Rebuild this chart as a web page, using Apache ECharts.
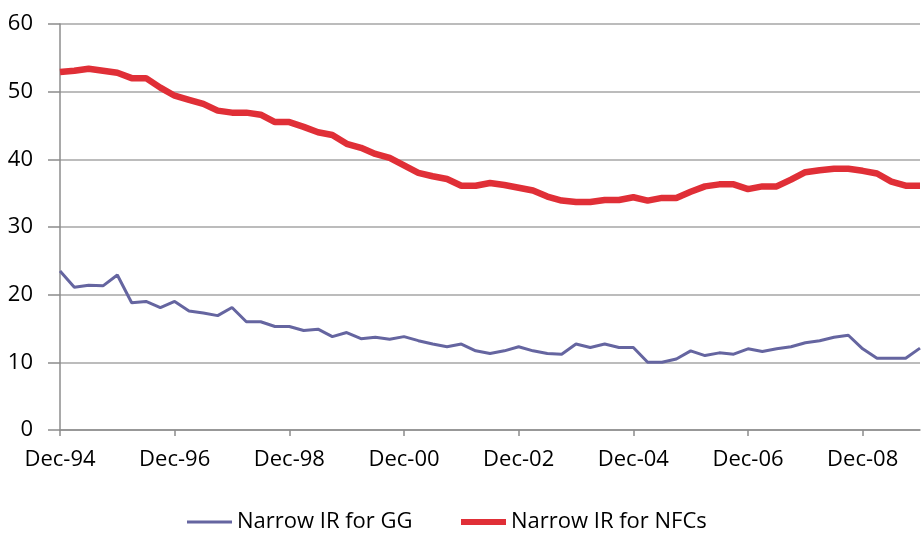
<!DOCTYPE html>
<html>
<head>
<meta charset="utf-8">
<script src="https://cdn.jsdelivr.net/npm/echarts@6/dist/echarts.min.js"></script>
<style>
  html, body { margin: 0; padding: 0; background: #fff; }
  #chart { width: 922px; height: 535px; }
</style>
</head>
<body>
<div id="chart"></div>
<script>
// quarterly, Dec-94 .. Dec-09
const quarters = [
  'Dec-94','Mar-95','Jun-95','Sep-95','Dec-95','Mar-96','Jun-96','Sep-96',
  'Dec-96','Mar-97','Jun-97','Sep-97','Dec-97','Mar-98','Jun-98','Sep-98',
  'Dec-98','Mar-99','Jun-99','Sep-99','Dec-99','Mar-00','Jun-00','Sep-00',
  'Dec-00','Mar-01','Jun-01','Sep-01','Dec-01','Mar-02','Jun-02','Sep-02',
  'Dec-02','Mar-03','Jun-03','Sep-03','Dec-03','Mar-04','Jun-04','Sep-04',
  'Dec-04','Mar-05','Jun-05','Sep-05','Dec-05','Mar-06','Jun-06','Sep-06',
  'Dec-06','Mar-07','Jun-07','Sep-07','Dec-07','Mar-08','Jun-08','Sep-08',
  'Dec-08','Mar-09','Jun-09','Sep-09','Dec-09'
];

const narrowGG = [
  23.5, 21.1, 21.4, 21.3, 22.9, 18.8, 19.0, 18.1,
  19.0, 17.6, 17.3, 16.9, 18.1, 16.0, 16.0, 15.3,
  15.3, 14.7, 14.9, 13.8, 14.4, 13.5, 13.7, 13.4,
  13.8, 13.2, 12.7, 12.3, 12.7, 11.7, 11.3, 11.7,
  12.3, 11.7, 11.3, 11.2, 12.7, 12.2, 12.7, 12.2,
  12.2, 10.0, 10.0, 10.5, 11.7, 11.0, 11.4, 11.2,
  12.0, 11.6, 12.0, 12.3, 12.9, 13.2, 13.7, 14.0,
  12.0, 10.6, 10.6, 10.6, 12.1
];

const narrowNFC = [
  52.9, 53.1, 53.4, 53.1, 52.8, 52.0, 52.0, 50.6,
  49.4, 48.8, 48.2, 47.2, 46.9, 46.9, 46.6, 45.5,
  45.5, 44.8, 44.0, 43.6, 42.3, 41.7, 40.8, 40.2,
  39.1, 38.0, 37.5, 37.1, 36.1, 36.1, 36.5, 36.2,
  35.8, 35.4, 34.5, 33.9, 33.7, 33.7, 34.0, 34.0,
  34.4, 33.9, 34.3, 34.3, 35.2, 36.0, 36.3, 36.3,
  35.6, 36.0, 36.0, 37.0, 38.1, 38.4, 38.6, 38.6,
  38.3, 37.9, 36.7, 36.1, 36.1
];

const yTicks = [0, 10, 20, 30, 40, 50, 60];

const fontFamily = '"Open Sans", "Noto Sans", sans-serif';
const gridGray = '#a6a6a6';
const ggColor = '#6565a0';
const nfcColor = '#e02f37';

let chartDom = document.getElementById('chart');
let myChart = echarts.init(chartDom, null, { renderer: 'canvas' });

let legendText = { fontSize: 22, color: '#000', fontFamily: fontFamily };

let option = {
  animation: false,
  backgroundColor: '#ffffff',
  textStyle: { fontFamily: fontFamily },
  grid: {
    left: 60,
    right: 2,
    top: 24,
    bottom: 105,
    containLabel: false
  },
  legend: [
    {
      left: 187,
      top: 511,
      padding: 0,
      icon: 'rect',
      itemWidth: 45,
      itemHeight: 3,
      itemGap: 6,
      textStyle: legendText,
      data: ['Narrow IR for GG']
    },
    {
      left: 461,
      top: 511,
      padding: 0,
      icon: 'rect',
      itemWidth: 45,
      itemHeight: 6,
      textStyle: legendText,
      data: ['Narrow IR for NFCs']
    }
  ],
  xAxis: {
    type: 'category',
    boundaryGap: false,
    data: quarters,
    axisLine: { lineStyle: { color: '#8c8c8c', width: 1.5 } },
    axisTick: { interval: 7, length: 6, lineStyle: { color: '#8c8c8c', width: 1.5 } },
    axisLabel: {
      interval: 7,
      margin: 19,
      fontSize: 22,
      color: '#000',
      fontFamily: fontFamily
    },
    splitLine: { show: false }
  },
  yAxis: {
    type: 'value',
    min: yTicks[0],
    max: yTicks[yTicks.length - 1],
    interval: 10,
    axisLine: { show: true, lineStyle: { color: '#8c8c8c', width: 1.5 } },
    axisTick: { show: true, length: 12, lineStyle: { color: '#8c8c8c', width: 1.5 } },
    axisLabel: {
      margin: 27,
      fontSize: 22,
      color: '#000',
      fontFamily: fontFamily
    },
    splitLine: { show: true, lineStyle: { color: gridGray, width: 1.5 } }
  },
  series: [
    {
      name: 'Narrow IR for GG',
      type: 'line',
      symbol: 'none',
      data: narrowGG,
      itemStyle: { color: ggColor },
      lineStyle: { color: ggColor, width: 3 }
    },
    {
      name: 'Narrow IR for NFCs',
      type: 'line',
      symbol: 'none',
      data: narrowNFC,
      itemStyle: { color: nfcColor },
      lineStyle: { color: nfcColor, width: 6.5 }
    }
  ]
};

option && myChart.setOption(option);
</script>
</body>
</html>
